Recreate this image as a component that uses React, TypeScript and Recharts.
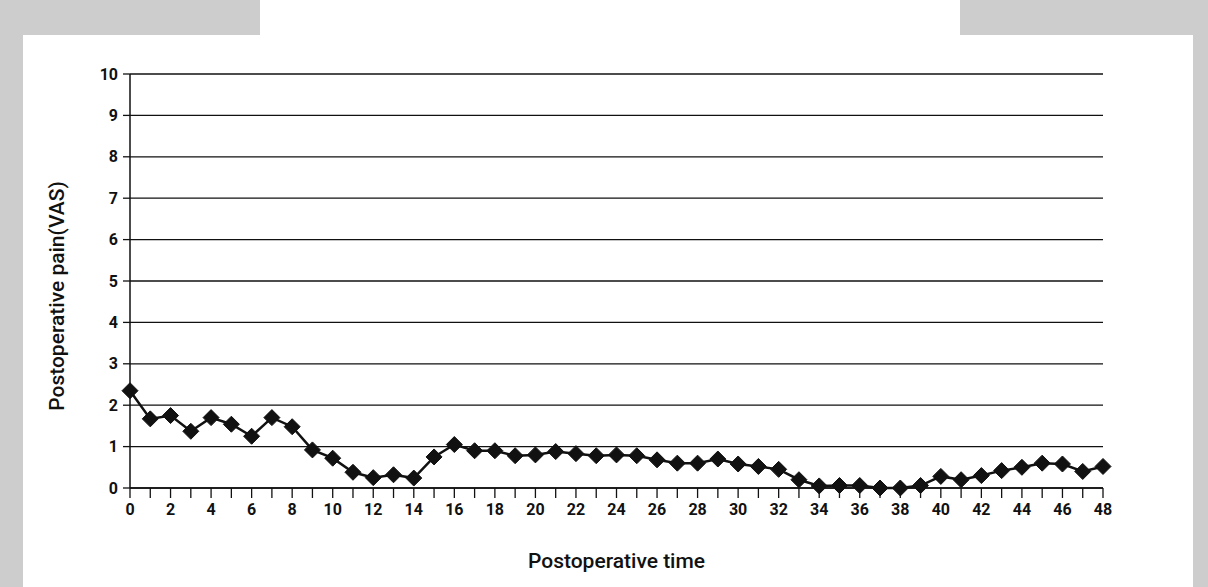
import React from 'react';
import { LineChart, Line, XAxis, YAxis, CartesianGrid, Label } from 'recharts';

// hours after surgery
const hours = [
  0, 1, 2, 3, 4, 5, 6, 7, 8, 9, 10, 11, 12, 13, 14, 15, 16, 17, 18, 19, 20, 21, 22, 23, 24,
  25, 26, 27, 28, 29, 30, 31, 32, 33, 34, 35, 36, 37, 38, 39, 40, 41, 42, 43, 44, 45, 46, 47, 48,
];
// mean VAS score at each hour
const vas = [
  2.35, 1.67, 1.75, 1.37, 1.7, 1.54, 1.25, 1.7, 1.48, 0.92, 0.72, 0.38, 0.25, 0.32, 0.24, 0.75,
  1.05, 0.9, 0.9, 0.78, 0.8, 0.88, 0.83, 0.78, 0.8, 0.78, 0.68, 0.6, 0.6, 0.7, 0.58, 0.52, 0.45,
  0.2, 0.05, 0.06, 0.06, 0.0, 0.0, 0.06, 0.28, 0.2, 0.3, 0.42, 0.5, 0.6, 0.58, 0.4, 0.52,
];
const yTicks = [0, 1, 2, 3, 4, 5, 6, 7, 8, 9, 10];

const data = hours.map((h, i) => ({ h, vas: vas[i] }));

const FONT = "Roboto, 'Noto Sans', sans-serif";

function Diamond(props: any) {
  const { cx, cy, index } = props;
  if (cx == null || cy == null) return null;
  const r = 8;
  return (
    <path
      key={`d-${index}`}
      d={`M${cx},${cy - r} L${cx + r},${cy} L${cx},${cy + r} L${cx - r},${cy} Z`}
      fill="#111"
      stroke="#111"
    />
  );
}

// rotated y title, a bit lower than the plot centre like the scan
function YTitle() {
  const x = 57;
  const y = 296;
  return (
    <text
      x={x}
      y={y}
      transform={`rotate(-90 ${x} ${y})`}
      textAnchor="middle"
      dominantBaseline="central"
      fill="#111"
      fontSize={21}
      fontWeight={500}
      fontFamily={FONT}
    >
      Postoperative pain(VAS)
    </text>
  );
}

export default function App() {
  return (
    <div
      style={{
        position: 'fixed',
        left: 0,
        top: 0,
        width: 1208,
        height: 587,
        background: '#ffffff',
        overflow: 'hidden',
      }}
    >
      {/* scanned page border */}
      <div style={{ position: 'absolute', left: 0, top: 0, width: 23, height: 587, background: '#cdcdcd' }} />
      <div style={{ position: 'absolute', left: 0, top: 0, width: 260, height: 35, background: '#cdcdcd' }} />
      <div style={{ position: 'absolute', left: 960, top: 0, width: 248, height: 35, background: '#cdcdcd' }} />
      <div style={{ position: 'absolute', left: 1193, top: 0, width: 15, height: 587, background: '#cdcdcd' }} />

      <div style={{ position: 'absolute', left: 0, top: 0 }}>
        <LineChart
          width={1208}
          height={587}
          data={data}
          margin={{ top: 74, right: 105, bottom: 69, left: 0 }}
        >
          <CartesianGrid horizontal vertical={false} stroke="#111" strokeWidth={1.3} />
          <XAxis
            dataKey="h"
            type="number"
            domain={[0, 48]}
            ticks={hours}
            interval={0}
            height={30}
            tickSize={10}
            tickMargin={6}
            axisLine={{ stroke: '#111', strokeWidth: 1.5 }}
            tickLine={{ stroke: '#111', strokeWidth: 1.3 }}
            tickFormatter={(v: number) => (v % 2 === 0 ? String(v) : '')}
            tick={{ fill: '#111', fontSize: 16, fontWeight: 700, fontFamily: FONT }}
            label={{
              value: 'Postoperative time',
              position: 'bottom',
              offset: 35,
              fill: '#111',
              fontSize: 21,
              fontWeight: 500,
              fontFamily: FONT,
            }}
          />
          <YAxis
            type="number"
            domain={[0, 10]}
            ticks={yTicks}
            interval={0}
            width={130}
            tickSize={7}
            tickMargin={5}
            axisLine={{ stroke: '#111', strokeWidth: 1.5 }}
            tickLine={{ stroke: '#111', strokeWidth: 1.3 }}
            tick={{ fill: '#111', fontSize: 16, fontWeight: 700, fontFamily: FONT }}
          >
            <Label content={<YTitle />} />
          </YAxis>
          <Line
            type="linear"
            dataKey="vas"
            stroke="#111"
            strokeWidth={2.5}
            dot={Diamond}
            activeDot={false}
            isAnimationActive={false}
          />
        </LineChart>
      </div>
    </div>
  );
}
